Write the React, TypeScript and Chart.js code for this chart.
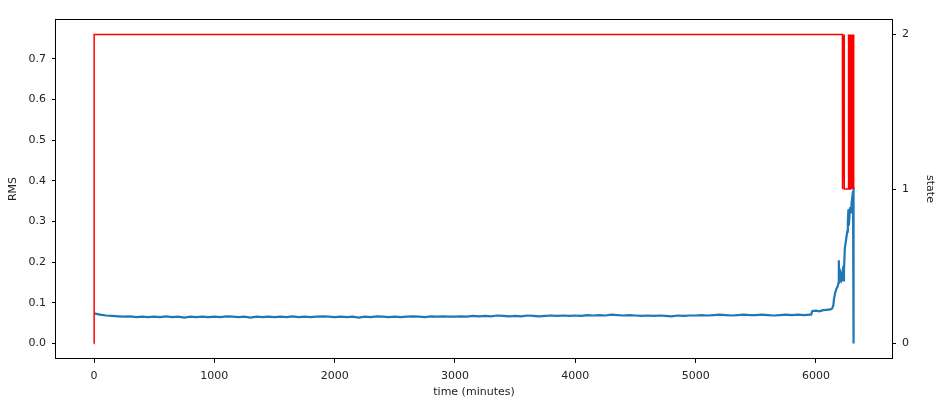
import { useEffect, useRef } from "react";
import { Chart, registerables } from "chart.js";

Chart.register(...registerables);

// RMS sampled every 50 minutes over the flat part of the run
const RMS_SAMPLE_MINUTES = 50;
const rmsBaseline = [
  0.074, 0.071, 0.069, 0.068, 0.067, 0.066, 0.067, 0.065, 0.066, 0.065,
  0.066, 0.065, 0.067, 0.065, 0.066, 0.064, 0.066, 0.065, 0.066, 0.065,
  0.066, 0.065, 0.067, 0.066, 0.065, 0.066, 0.064, 0.066, 0.065, 0.066,
  0.065, 0.066, 0.065, 0.067, 0.065, 0.066, 0.065, 0.066, 0.067, 0.066,
  0.065, 0.066, 0.065, 0.066, 0.064, 0.066, 0.065, 0.067, 0.066, 0.065,
  0.066, 0.065, 0.066, 0.067, 0.066, 0.065, 0.067, 0.066, 0.067, 0.066,
  0.066, 0.067, 0.066, 0.068, 0.067, 0.068, 0.067, 0.069, 0.068, 0.067,
  0.068, 0.067, 0.069, 0.068, 0.067, 0.068, 0.069, 0.068, 0.069, 0.068,
  0.069, 0.068, 0.070, 0.069, 0.070, 0.069, 0.071, 0.070, 0.069, 0.070,
  0.069, 0.068, 0.069, 0.068, 0.069, 0.068, 0.067, 0.069, 0.068, 0.069,
  0.069, 0.070, 0.069, 0.070, 0.071, 0.070, 0.069, 0.070, 0.071, 0.070,
  0.070, 0.071, 0.070, 0.069, 0.070, 0.071, 0.070, 0.071, 0.070, 0.071,
];

// RMS near failure (irregular samples)
const rmsTailTimes = [
  5960, 5970, 6000, 6030, 6060, 6090, 6120, 6135, 6145, 6150, 6160, 6170,
  6180, 6188, 6190, 6193, 6197, 6205, 6212, 6220, 6228, 6233, 6240, 6248,
  6255, 6260, 6265, 6270, 6273, 6278, 6283, 6290, 6296, 6302, 6308, 6312,
  6313,
];
const rmsTailValues = [
  0.071, 0.080, 0.081, 0.079, 0.082, 0.083, 0.084, 0.086, 0.095, 0.110, 0.125, 0.135,
  0.140, 0.150, 0.205, 0.160, 0.150, 0.170, 0.160, 0.175, 0.155, 0.180, 0.235, 0.250,
  0.265, 0.275, 0.300, 0.330, 0.290, 0.310, 0.335, 0.320, 0.345, 0.360, 0.375, 0.383,
  0.0,
];

// machine state
const stateTimes = [
  0, 1, 6220, 6221, 6234, 6235, 6268, 6269, 6271, 6273, 6275, 6277, 6279, 6281,
  6283, 6285, 6287, 6289, 6291, 6293, 6295, 6297, 6299, 6301, 6303, 6305, 6307,
  6309, 6311, 6313, 6315, 6316,
];
const stateValues = [
  0, 2, 2, 1, 2, 1, 1, 2, 1, 2, 1, 2, 1, 2,
  1, 2, 1, 2, 1, 2, 1, 2, 1, 2, 1, 2, 1,
  2, 1, 2, 1, 2,
];

const timeTicks = [0, 1000, 2000, 3000, 4000, 5000, 6000];
const rmsTicks = [0, 0.1, 0.2, 0.3, 0.4, 0.5, 0.6, 0.7];
const stateTicks = [0, 1, 2];

const FONT = { family: "'DejaVu Sans', sans-serif", size: 11 };
const TEXT = "#222";

const framePlugin = {
  id: "frame",
  afterDatasetsDraw(chart: any) {
    const { ctx, chartArea } = chart;
    const { left, top, right, bottom } = chartArea;
    ctx.save();
    ctx.strokeStyle = "#000";
    ctx.lineWidth = 1;
    ctx.strokeRect(left - 0.5, top + 0.5, right - left + 1, bottom - top - 1);
    ctx.restore();
  },
};

export default function App() {
  const ref = useRef<HTMLCanvasElement | null>(null);

  useEffect(() => {
    if (!ref.current) return;
    const rmsPoints = rmsBaseline
      .map((v, i) => ({ x: i * RMS_SAMPLE_MINUTES, y: v }))
      .concat(rmsTailTimes.map((t, i) => ({ x: t, y: rmsTailValues[i] })));
    const statePoints = stateTimes.map((t, i) => ({ x: t, y: stateValues[i] }));

    const tickGrid = {
      display: true,
      drawOnChartArea: false,
      drawTicks: true,
      tickLength: 4,
      color: "#000",
      lineWidth: 1,
    };

    const chart = new Chart(ref.current, {
      type: "line",
      data: {
        datasets: [
          {
            label: "state",
            data: statePoints,
            yAxisID: "y1",
            borderColor: "#ff0000",
            borderWidth: 1.5,
            pointRadius: 0,
            tension: 0,
            fill: false,
          },
          {
            label: "RMS",
            data: rmsPoints,
            yAxisID: "y",
            borderColor: "#1f77b4",
            borderWidth: 2.2,
            pointRadius: 0,
            tension: 0,
            fill: false,
          },
        ],
      },
      options: {
        animation: false,
        responsive: false,
        events: [],
        layout: { padding: { top: 19, left: 0, right: 0, bottom: 0 } },
        plugins: {
          legend: { display: false },
          tooltip: { enabled: false },
        },
        scales: {
          x: {
            type: "linear",
            min: -316,
            max: 6632,
            afterBuildTicks: (s: any) => {
              s.ticks = timeTicks.map((v) => ({ value: v }));
            },
            afterFit: (s: any) => {
              s.height = 54;
            },
            ticks: {
              font: FONT,
              color: TEXT,
              padding: 7,
              maxRotation: 0,
              autoSkip: false,
              callback: (v: any) => String(v),
            },
            grid: tickGrid,
            border: { display: false },
            title: {
              display: true,
              text: "time (minutes)",
              font: FONT,
              color: TEXT,
              padding: { top: 0, bottom: 14 },
            },
          },
          y: {
            type: "linear",
            position: "left",
            min: -0.038,
            max: 0.798,
            afterBuildTicks: (s: any) => {
              s.ticks = rmsTicks.map((v) => ({ value: v }));
            },
            afterFit: (s: any) => {
              s.width = 56;
            },
            ticks: {
              font: FONT,
              color: TEXT,
              padding: 6,
              autoSkip: false,
              callback: (v: any) => Number(v).toFixed(1),
            },
            grid: tickGrid,
            border: { display: false },
            title: {
              display: true,
              text: "RMS",
              font: FONT,
              color: TEXT,
              padding: { top: 7, bottom: 0 },
            },
          },
          y1: {
            type: "linear",
            position: "right",
            min: -0.1,
            max: 2.1,
            afterBuildTicks: (s: any) => {
              s.ticks = stateTicks.map((v) => ({ value: v }));
            },
            afterFit: (s: any) => {
              s.width = 60;
            },
            ticks: {
              font: FONT,
              color: TEXT,
              padding: 6,
              autoSkip: false,
              callback: (v: any) => String(v),
            },
            grid: tickGrid,
            border: { display: false },
            title: {
              display: true,
              text: "state",
              font: FONT,
              color: TEXT,
              padding: { top: 16, bottom: 0 },
            },
          },
        },
      },
      plugins: [framePlugin],
    });
    return () => chart.destroy();
  }, []);

  return (
    <div style={{ position: "absolute", left: 0, top: 0, width: 952, height: 413, background: "#fff" }}>
      <canvas ref={ref} width={952} height={413} style={{ display: "block", width: 952, height: 413 }} />
    </div>
  );
}
